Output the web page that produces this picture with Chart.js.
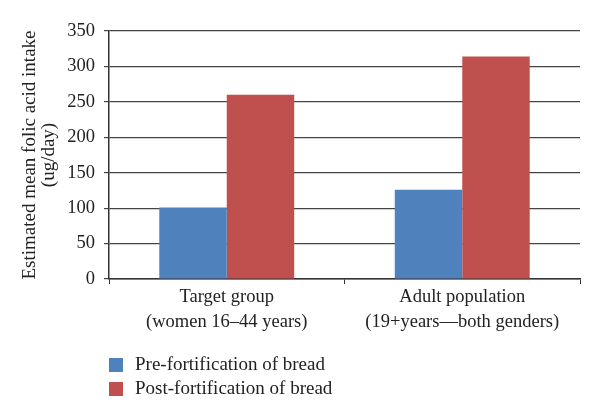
<!DOCTYPE html>
<html>
<head>
<meta charset="utf-8">
<script src="https://cdn.jsdelivr.net/npm/chart.js@4"></script>
<style>
html,body{margin:0;padding:0;background:#fff;}
#wrap{width:600px;height:420px;position:relative;}
</style>
</head>
<body>
<div id="wrap"><canvas id="c" width="600" height="420"></canvas></div>
<script>
const categories = [["Target group","(women 16\u201344 years)"],["Adult population","(19+years\u2014both genders)"]];
const seriesNames = ["Pre-fortification of bread","Post-fortification of bread"];
const preValues = [101, 126];
const postValues = [260, 314];
const yTicks = [0,50,100,150,200,250,300,350];
const colors = ["#4F81BD","#C0504D"];
const FONT = "'Liberation Serif', 'Times New Roman', serif";

const legendPlugin = {
  id: 'vlegend',
  afterDraw(chart){
    const ctx = chart.ctx;
    ctx.save();
    ctx.font = "19px " + FONT;
    ctx.textBaseline = 'middle';
    ctx.textAlign = 'left';
    chart.data.datasets.forEach((ds,i)=>{
      const y = 365 + i*24;
      ctx.fillStyle = ds.backgroundColor;
      ctx.fillRect(109, y-7, 14, 14);
      ctx.fillStyle = '#222';
      ctx.fillText(ds.label, 135, y);
    });
    ctx.restore();
  }
};

new Chart(document.getElementById('c'), {
  type: 'bar',
  data: {
    labels: categories,
    datasets: [
      {label: seriesNames[0], data: preValues, backgroundColor: colors[0]},
      {label: seriesNames[1], data: postValues, backgroundColor: colors[1]}
    ]
  },
  options: {
    responsive: false,
    animation: false,
    layout: {padding: {left: 0, right: 20, top: 31, bottom: 80}},
    plugins: {legend: {display: false}, tooltip: {enabled: false}},
    datasets: {bar: {categoryPercentage: 0.573, barPercentage: 1.0}},
    scales: {
      x: {
        grid: {display: true, drawOnChartArea: false, drawTicks: true, tickLength: 5, color: '#333', offset: true},
        border: {color: '#333', width: 1.5},
        ticks: {color: '#222', font: {family: FONT, size: 18.5, lineHeight: 1.35}, padding: 1, maxRotation: 0},
        afterFit(s){ s.height = 61; }
      },
      y: {
        min: 0, max: 350,
        afterBuildTicks(s){ s.ticks = yTicks.map(v=>({value:v})); },
        grid: {color: '#444', lineWidth: 1.2, tickLength: 5},
        border: {color: '#333', width: 1.5},
        ticks: {color: '#222', font: {family: FONT, size: 18.5}, padding: 9},
        title: {display: true, text: ["Estimated mean folic acid intake","(ug/day)"], color: '#222', font: {family: FONT, size: 19, lineHeight: 1.0}, padding: {top: 21, bottom: 0}},
        afterFit(s){ s.width = 109; }
      }
    }
  },
  plugins: [legendPlugin]
});
</script>
</body>
</html>
